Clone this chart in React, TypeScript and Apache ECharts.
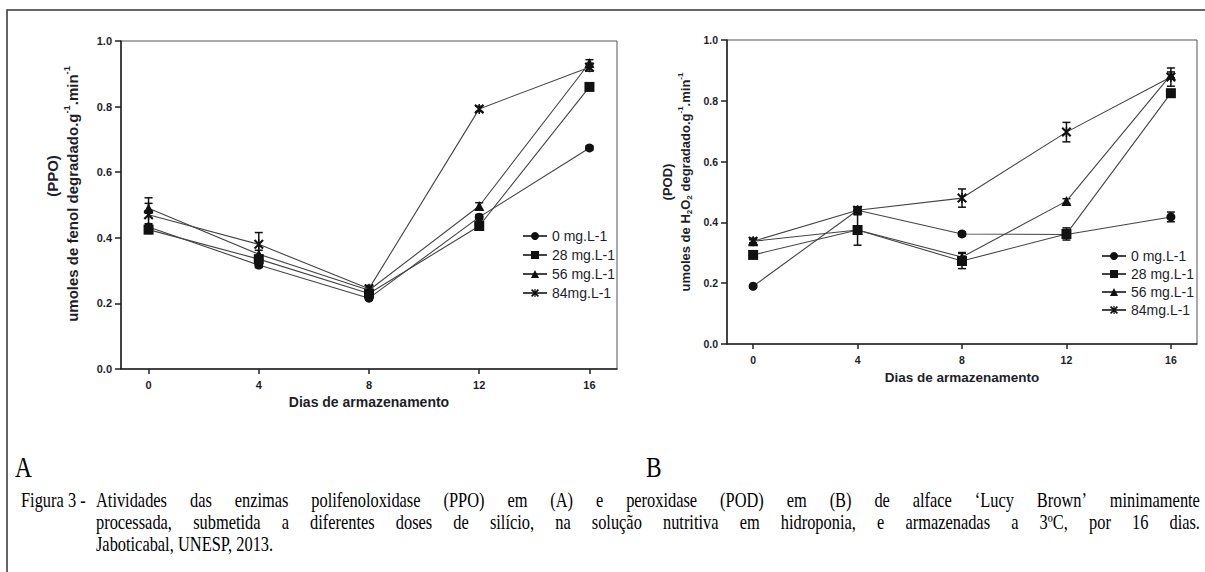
import React, { useEffect, useRef } from 'react';
import * as echarts from 'echarts';

const days = [0, 4, 8, 12, 16];
const dayTicks = [0, 4, 8, 12, 16];
const doseNames = ['0 mg.L-1', '28 mg.L-1', '56 mg.L-1', '84mg.L-1'];

// Panel A - PPO
const ppo0 = [0.433, 0.317, 0.216, 0.463, 0.674];
const ppo28 = [0.425, 0.335, 0.23, 0.436, 0.86];
const ppo56 = [0.49, 0.35, 0.24, 0.497, 0.933];
const ppo84 = [0.47, 0.38, 0.245, 0.793, 0.92];
const ppoErr0 = [0.01, 0.008, 0.006, 0.008, 0.006];
const ppoErr28 = [0.012, 0.01, 0.008, 0.008, 0.01];
const ppoErr56 = [0.015, 0.012, 0.008, 0.01, 0.01];
const ppoErr84 = [0.052, 0.036, 0.01, 0.008, 0.012];

// Panel B - POD
const pod0 = [0.19, 0.44, 0.362, 0.36, 0.418];
const pod28 = [0.293, 0.375, 0.273, 0.362, 0.825];
const pod56 = [0.338, 0.375, 0.286, 0.47, 0.885];
const pod84 = [0.338, 0.44, 0.48, 0.697, 0.878];
const podErr0 = [0.005, 0.008, 0.006, 0.01, 0.016];
const podErr28 = [0.006, 0.05, 0.025, 0.02, 0.008];
const podErr56 = [0.005, 0.008, 0.015, 0.008, 0.01];
const podErr84 = [0.01, 0.01, 0.03, 0.032, 0.03];

const xTitle = 'Dias de armazenamento';
const captionHead = 'Figura 3 -';
const captionLines = [
  'Atividades das enzimas polifenoloxidase (PPO) em (A) e peroxidase (POD) em (B) de alface ‘Lucy Brown’ minimamente',
  'processada, submetida a diferentes doses de silício, na solução nutritiva em hidroponia, e armazenadas a 3ºC, por 16 dias.',
  'Jaboticabal, UNESP, 2013.',
];

const SANS = 'Liberation Sans, Arial, sans-serif';
const SERIF = 'Liberation Serif';
const INK = '#1e1e2a';
const STAR = 'path://M0,3L3,0L20,17L17,20Z M17,0L20,3L3,20L0,17Z M8.5,0L11.5,0L11.5,20L8.5,20Z';
const symbols = ['circle', 'rect', 'triangle', STAR];
const symSizes = [9, 10, 10, 10];

function lineSeries(name: string, vals: number[], idx: number, gi: number) {
  return {
    type: 'line',
    name,
    xAxisIndex: gi,
    yAxisIndex: gi,
    data: days.map((d, i) => [d, vals[i]]),
    symbol: symbols[idx],
    symbolSize: symSizes[idx],
    itemStyle: { color: '#111' },
    lineStyle: { color: '#444', width: 1.1 },
    z: 3,
  };
}

function errSeries(vals: number[], errs: number[], gi: number) {
  return {
    type: 'custom',
    xAxisIndex: gi,
    yAxisIndex: gi,
    silent: true,
    z: 2,
    encode: { x: 0, y: [1, 2] },
    data: days.map((d, i) => [d, vals[i] - errs[i], vals[i] + errs[i]]),
    renderItem: (params: any, api: any) => {
      const x = api.value(0);
      const lo = api.coord([x, api.value(1)]);
      const hi = api.coord([x, api.value(2)]);
      const w = 4;
      const st = { stroke: '#111', lineWidth: 1.5 };
      return {
        type: 'group',
        children: [
          { type: 'line', shape: { x1: lo[0], y1: lo[1], x2: hi[0], y2: hi[1] }, style: st },
          { type: 'line', shape: { x1: lo[0] - w, y1: lo[1], x2: lo[0] + w, y2: lo[1] }, style: st },
          { type: 'line', shape: { x1: hi[0] - w, y1: hi[1], x2: hi[0] + w, y2: hi[1] }, style: st },
        ],
      };
    },
  };
}

function xAxisFor(gi: number, nameFs: number, labelFs: number) {
  return {
    type: 'value',
    gridIndex: gi,
    min: -1,
    max: 17,
    name: xTitle,
    nameLocation: 'middle',
    nameGap: 26,
    nameTextStyle: { fontFamily: SANS, fontWeight: 'bold', fontSize: nameFs, color: INK },
    axisLine: { show: true, onZero: false, lineStyle: { color: '#222', width: 1.5 } },
    axisTick: { show: true, customValues: dayTicks, length: 5, lineStyle: { color: '#222', width: 1.5 } },
    axisLabel: { customValues: dayTicks, margin: 10, fontFamily: SANS, fontWeight: 'bold', fontSize: labelFs, color: INK },
    splitLine: { show: false },
  };
}

function yAxisFor(gi: number, labelFs: number) {
  return {
    type: 'value',
    gridIndex: gi,
    min: 0,
    max: 1,
    interval: 0.2,
    axisLine: { show: true, onZero: false, lineStyle: { color: '#222', width: 1.5 } },
    axisTick: { show: true, length: 6, lineStyle: { color: '#222', width: 1.5 } },
    axisLabel: {
      margin: 9,
      fontFamily: SANS,
      fontWeight: 'bold',
      fontSize: labelFs,
      color: INK,
      formatter: (v: number) => v.toFixed(1),
    },
    splitLine: { show: false },
  };
}

function yTitle(x1: number, cy1: number, x2: number, cy: number, fs: number, head: string, rich: string) {
  const base = { fontFamily: SANS, fontWeight: 'bold', fill: INK };
  return [
    {
      type: 'text',
      x: x1,
      y: cy1,
      rotation: Math.PI / 2,
      style: { ...base, text: head, fontSize: fs, align: 'center', verticalAlign: 'middle' },
    },
    {
      type: 'text',
      x: x2,
      y: cy,
      rotation: Math.PI / 2,
      style: {
        ...base,
        text: rich,
        fontSize: fs,
        align: 'center',
        verticalAlign: 'middle',
        rich: {
          t: { ...base, fontSize: fs, lineHeight: fs + 4, verticalAlign: 'middle' },
          s: { ...base, fontSize: fs * 0.62, lineHeight: fs * 0.62, verticalAlign: 'top' },
          u: { ...base, fontSize: fs * 0.62, lineHeight: fs * 0.62 + 2, verticalAlign: 'bottom' },
        },
      },
    },
  ];
}

function buildCaption() {
  const fs = 20;
  const sx = 0.82;
  const canvas = document.createElement('canvas');
  const ctx = canvas.getContext('2d') as CanvasRenderingContext2D;
  ctx.font = `${fs}px "${SERIF}"`;
  const els: any[] = [];
  const word = (t: string, x: number, y: number) => ({
    type: 'text',
    x,
    y,
    scaleX: sx,
    style: { text: t, fontFamily: SERIF, fontSize: fs, fill: '#000', align: 'left', verticalAlign: 'middle' },
  });
  const place = (line: string, x0: number, x1: number, y: number, justify: boolean) => {
    const ws = line.split(' ');
    const widths = ws.map((w) => ctx.measureText(w).width * sx);
    const total = widths.reduce((a, b) => a + b, 0);
    const natural = ctx.measureText(' ').width * sx;
    const gap = justify ? Math.max(natural, (x1 - x0 - total) / (ws.length - 1)) : natural;
    let x = x0;
    ws.forEach((w, i) => {
      els.push(word(w, x, y));
      x += widths[i] + gap;
    });
  };
  place(captionHead, 21, 0, 500, false);
  place(captionLines[0], 96, 1200, 500, true);
  place(captionLines[1], 96, 1200, 522, true);
  place(captionLines[2], 96, 0, 544, false);
  return els;
}

export default function App() {
  const ref = useRef<HTMLDivElement>(null);
  useEffect(() => {
    if (!ref.current) return;
    const chart = echarts.init(ref.current, undefined, { renderer: 'svg' });
    const ppoVals = [ppo0, ppo28, ppo56, ppo84];
    const ppoErrs = [ppoErr0, ppoErr28, ppoErr56, ppoErr84];
    const podVals = [pod0, pod28, pod56, pod84];
    const podErrs = [podErr0, podErr28, podErr56, podErr84];
    const series: any[] = [];
    ppoVals.forEach((v, i) => series.push(errSeries(v, ppoErrs[i], 0)));
    podVals.forEach((v, i) => series.push(errSeries(v, podErrs[i], 1)));
    ppoVals.forEach((v, i) => series.push(lineSeries(doseNames[i], v, i, 0)));
    podVals.forEach((v, i) => series.push(lineSeries(doseNames[i], v, i, 1)));

    const legendBase = {
      orient: 'vertical',
      itemWidth: 24,
      itemHeight: 10,
      data: doseNames,
      textStyle: { fontFamily: SANS, fontSize: 14, color: INK },
      selectedMode: false,
    };

    chart.setOption({
      animation: false,
      backgroundColor: '#fff',
      grid: [
        { left: 121, top: 41, width: 496, height: 328, show: true, borderColor: '#555', borderWidth: 1 },
        { left: 727, top: 40, width: 470, height: 304, show: true, borderColor: '#555', borderWidth: 1 },
      ],
      xAxis: [xAxisFor(0, 14, 11), xAxisFor(1, 13.5, 10.5)],
      yAxis: [yAxisFor(0, 11), yAxisFor(1, 10.5)],
      legend: [
        { ...legendBase, left: 517, top: 224, itemGap: 5 },
        { ...legendBase, left: 1096, top: 244, itemGap: 4 },
      ],
      series,
      graphic: [
        {
          type: 'polyline',
          shape: { points: [[7, 572], [7, 10], [1205, 10]] },
          style: { stroke: '#333', lineWidth: 1.5, fill: null },
        },
        ...yTitle(52, 176, 72, 194, 15, '(PPO)', '{t|umoles de fenol degradado.g}{s|-1}{t|.min}{s|-1}'),
        ...yTitle(667, 182, 685, 182, 13, '(POD)', '{t|umoles de H}{u|2}{t|O}{u|2}{t| degradado.g}{s|-1}{t|.min}{s|-1}'),
        {
          type: 'text',
          x: 15,
          y: 467,
          scaleX: 0.78,
          style: { text: 'A', fontFamily: SERIF, fontSize: 30, fill: '#000', verticalAlign: 'middle' },
        },
        {
          type: 'text',
          x: 646,
          y: 467,
          scaleX: 0.78,
          style: { text: 'B', fontFamily: SERIF, fontSize: 30, fill: '#000', verticalAlign: 'middle' },
        },
        ...buildCaption(),
      ],
    });
    return () => chart.dispose();
  }, []);
  return <div ref={ref} style={{ position: 'fixed', left: 0, top: 0, width: 1205, height: 572 }} />;
}
